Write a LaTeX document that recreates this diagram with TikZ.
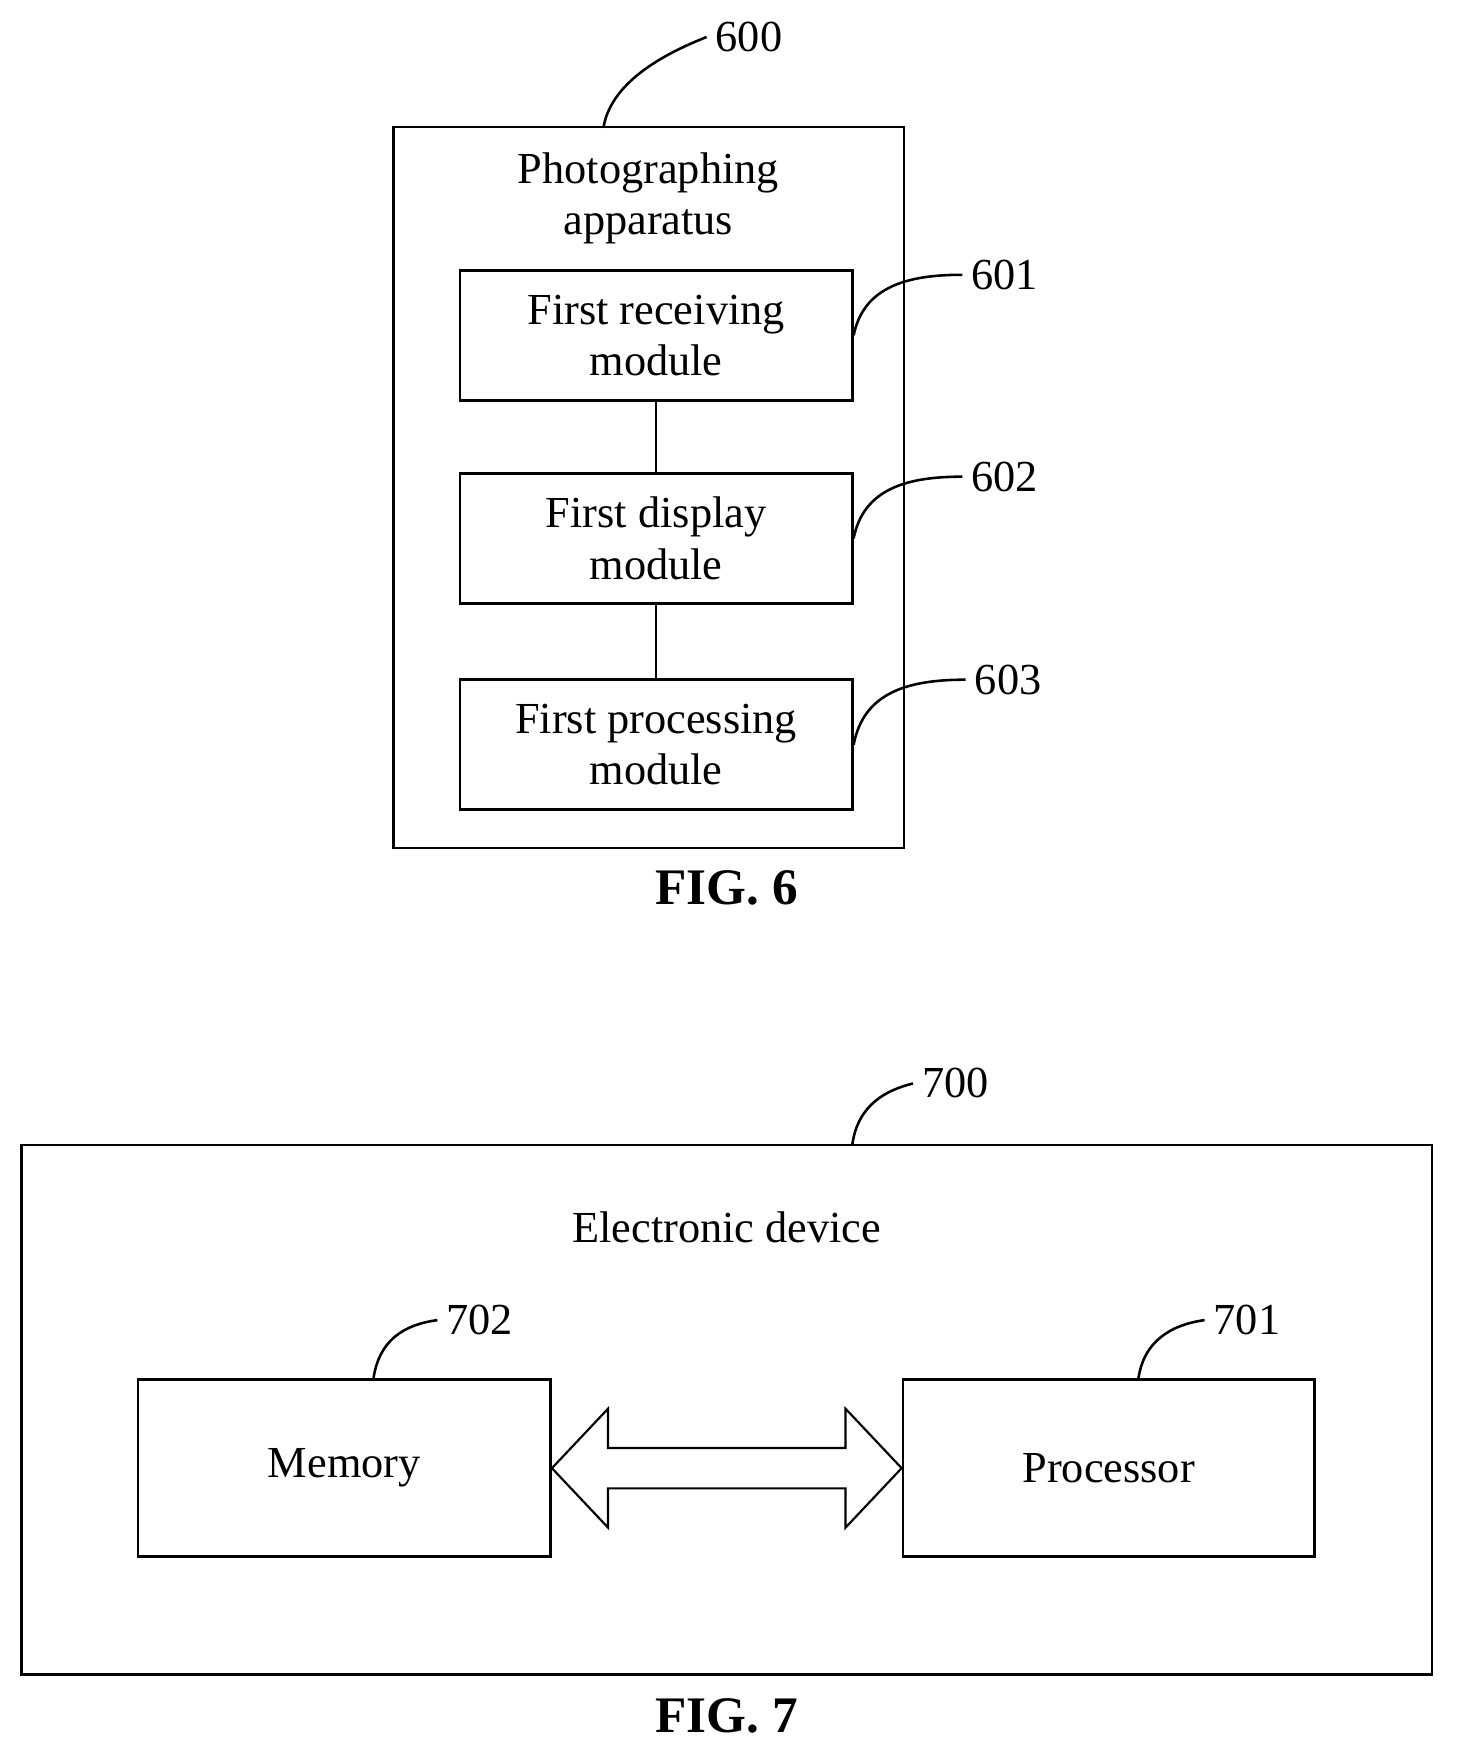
\documentclass[tikz,border=0pt]{standalone}
\usepackage{fontspec}
\setmainfont{Liberation Serif}
\usetikzlibrary{calc}
\begin{document}
\begin{tikzpicture}[x=0.02cm,y=-0.02cm,line width=1.3pt]
    \tikzstyle{boite}=[draw,rectangle,align=center,inner sep=0pt,font=\fontsize{22.5}{26}\selectfont]
    \tikzstyle{numero}=[font=\fontsize{22.5}{26}\selectfont,anchor=west,inner sep=4pt]
    \tikzstyle{legende}=[font=\fontsize{26}{30}\selectfont\bfseries]
    \useasboundingbox (0,0) rectangle (1300,1571);
    % FIG. 6
    \node[boite,minimum width=9.1cm,minimum height=12.86cm] (N600) at (578.5,434.5) {};
    \node[font=\fontsize{22.5}{26}\selectfont,align=center] (T600) at (578,177) {Photographing\\apparatus};
    \node[boite,minimum width=7cm,minimum height=2.32cm] (N601) at (585,299) {First receiving\\module};
    \node[boite,minimum width=7cm,minimum height=2.32cm] (N602) at (585,480) {First display\\module};
    \node[boite,minimum width=7cm,minimum height=2.32cm] (N603) at (585,664) {First processing\\module};
    \draw (N601) -- (N602);
    \draw (N602) -- (N603);
    \node[numero] (L600) at (630,33) {600};
    \node[numero] (L601) at (858,245) {601};
    \node[numero] (L602) at (858,425) {602};
    \node[numero] (L603) at (861,606) {603};
    \coordinate (A600) at (538,114);
    \draw (A600) .. controls (545,70) and (600,45) .. (L600.west);
    \draw (N601.east) .. controls (770,255) and (810,245) .. (L601.west);
    \draw (N602.east) .. controls (770,435) and (810,425) .. (L602.west);
    \draw (N603.east) .. controls (770,617) and (810,606) .. (L603.west);
    \node[legende] (F6) at (648,792) {FIG. 6};
    % FIG. 7
    \node[boite,minimum width=25.16cm,minimum height=9.44cm] (N700) at (648,1257) {};
    \node[font=\fontsize{22.5}{26}\selectfont] (T700) at (648,1094) {Electronic device};
    \node[boite,minimum width=7.36cm,minimum height=3.16cm] (N702) at (307,1309) {Memory};
    \node[boite,minimum width=7.34cm,minimum height=3.16cm] (N701) at (988.5,1309) {Processor};
    \draw[line width=1.1pt] (N702.east)
        -- ($(N702.east)+(50,-53)$) -- ($(N702.east)+(50,-18)$)
        -- ($(N701.west)+(-50,-18)$) -- ($(N701.west)+(-50,-53)$)
        -- (N701.west)
        -- ($(N701.west)+(-50,53)$) -- ($(N701.west)+(-50,18)$)
        -- ($(N702.east)+(50,18)$) -- ($(N702.east)+(50,53)$) -- cycle;
    \node[numero] (L700) at (814,966) {700};
    \node[numero] (L702) at (390,1177) {702};
    \node[numero] (L701) at (1074,1177) {701};
    \coordinate (A700) at (760,1020);
    \coordinate (A702) at (333,1229);
    \coordinate (A701) at (1015,1229);
    \draw (A700) .. controls (765,985) and (790,972) .. (L700.west);
    \draw (A702) .. controls (338,1195) and (360,1181) .. (L702.west);
    \draw (A701) .. controls (1020,1195) and (1045,1181) .. (L701.west);
    \node[legende] (F7) at (648,1530) {FIG. 7};
\end{tikzpicture}
\end{document}
